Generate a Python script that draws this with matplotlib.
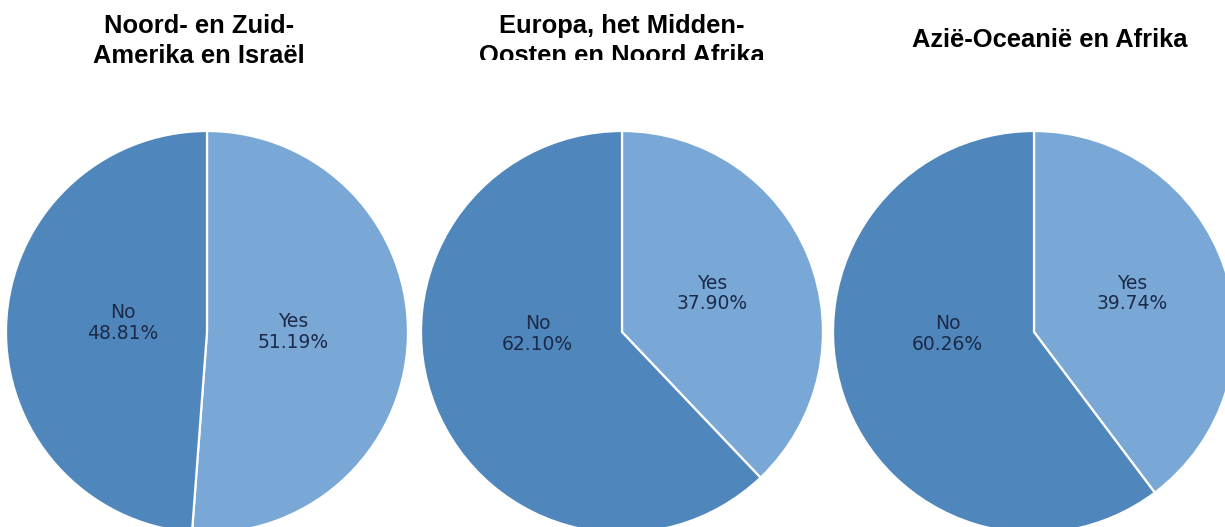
import matplotlib
matplotlib.use("Agg")
import matplotlib.pyplot as plt
from matplotlib.transforms import Bbox

# Survey results per region
regions = [
    "Noord- en Zuid-\nAmerika en Israël",
    "Europa, het Midden-\nOosten en Noord Afrika",
    "Azië-Oceanië en Afrika",
]
answers = ["Yes", "No"]
yes_pct = [51.19, 37.90, 39.74]
no_pct = [48.81, 62.10, 60.26]

W, H = 1225, 527
fig = plt.figure(figsize=(W / 100, H / 100), dpi=100)

colors = ["#7aa8d6", "#4f87bd"]
text_color = "#1c2a48"

# pixel layout of each pie: centre x, centre y (from top), radius
pie_layout = [(207, 332, 201), (622, 332, 201), (1034, 332, 201)]
# title anchor: centre x, baseline of last line (from top)
title_anchor = [(199, 63), (622, 63), (1050, 47)]
# only the middle title runs past the header band and gets cut
title_clip = [False, True, False]
# label anchors (fraction of radius) for Yes / No
label_pos = [
    [(0.43, 0.0), (-0.42, 0.045)],
    [(0.45, 0.19), (-0.42, -0.01)],
    [(0.49, 0.19), (-0.43, -0.01)],
]

for i, (cx, cy, r) in enumerate(pie_layout):
    ax = fig.add_axes([(cx - r) / W, (H - cy - r) / H, 2 * r / W, 2 * r / H])
    vals = [yes_pct[i], no_pct[i]]
    ax.pie(vals, colors=colors, startangle=90, counterclock=False,
           radius=1.0, wedgeprops=dict(edgecolor="white", linewidth=1.6))
    ax.set_xlim(-1, 1)
    ax.set_ylim(-1, 1)
    ax.set_aspect("auto")
    ax.axis("off")
    for (lx, ly), name, v in zip(label_pos[i], answers, vals):
        ax.text(lx, ly, f"{name}\n{v:.2f}%", ha="center", va="center",
                fontsize=13.5, color=text_color, family="DejaVu Sans",
                linespacing=1.08)

    tx, ty = title_anchor[i]
    t = fig.text(tx / W, 1 - ty / H, regions[i],
                 ha="center", va="baseline", fontsize=18.4, fontweight="bold",
                 family="Liberation Sans", linespacing=1.3, color="#000000")
    if title_clip[i]:
        t.set_clip_box(Bbox([[0, H - 60], [W, H]]))
        t.set_clip_on(True)

fig.savefig("out.png", dpi=100)
